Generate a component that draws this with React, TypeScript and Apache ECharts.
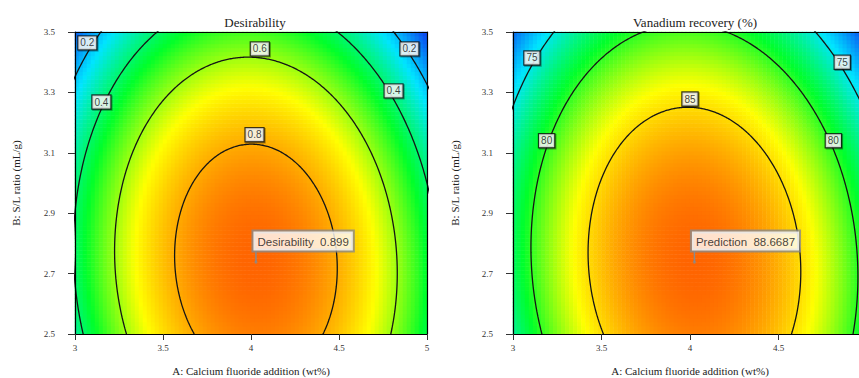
import React, { useEffect, useRef } from "react";
import * as echarts from "echarts";

// Axes
const xTicks = [3, 3.5, 4, 4.5, 5];
const xTickLabelsRight = [3, 3.5, 4, 4.5]; // the 5 label falls outside the picture on the right chart
const yTicks = [2.5, 2.7, 2.9, 3.1, 3.3, 3.5];
const xRange = [3, 5];
const yRange = [2.5, 3.5];
const xName = "A: Calcium fluoride addition (wt%)";
const yName = "B: S/L ratio (mL/g)";

// Desirability surface (peak value, optimum point, curvatures a, b, cross c)
const desTitle = "Desirability";
const desPeak = 0.899;
const desCenter = [4.028, 2.738];
const desCurv = [0.465, 0.651, 0.06];
const desLevels = [0.2, 0.4, 0.6, 0.8];
const desLabels: [number, number, string][] = [
  [3.07, 3.464, "0.2"],
  [4.05, 3.444, "0.6"],
  [4.9, 3.444, "0.2"],
  [3.15, 3.268, "0.4"],
  [4.81, 3.305, "0.4"],
  [4.02, 3.16, "0.8"],
];
const desColorRange = [0.035, 0.899];
const desFlag = "Desirability\u00a0\u00a00.899";

// Vanadium recovery surface
const vanTitle = "Vanadium recovery (%)";
const vanPeak = 88.6687;
const vanCenter = [4.025, 2.738];
const vanCurv = [10.2, 14.0, 1.47];
const vanLevels = [75, 80, 85];
const vanLabels: [number, number, string][] = [
  [3.107, 3.414, "75"],
  [4.86, 3.4, "75"],
  [4.0, 3.278, "85"],
  [3.19, 3.14, "80"],
  [4.81, 3.14, "80"],
];
const vanColorRange = [69.7, 88.6687];
const vanFlag = "Prediction\u00a0\u00a088.6687";

const colorStops = ["#0a3cf0", "#00e5ff", "#00ff2a", "#ffff00", "#ff6400"];

const NX = 88;
const NY = 76;

function model(peak: number, c: number[], k: number[], x: number, y: number) {
  const dx = x - c[0];
  const dy = y - c[1];
  return peak - k[0] * dx * dx - k[1] * dy * dy - k[2] * dx * dy;
}

function heatData(peak: number, c: number[], k: number[]) {
  const out: number[][] = [];
  for (let i = 0; i < NX; i++) {
    for (let j = 0; j < NY; j++) {
      const x = xRange[0] + ((i + 0.5) * (xRange[1] - xRange[0])) / NX;
      const y = yRange[0] + ((j + 0.5) * (yRange[1] - yRange[0])) / NY;
      out.push([i, j, model(peak, c, k, x, y)]);
    }
  }
  return out;
}

function contour(peak: number, c: number[], k: number[], level: number) {
  const L = peak - level;
  const pts: number[][] = [];
  for (let d = 0; d <= 720; d++) {
    const t = (d * Math.PI) / 360;
    const cs = Math.cos(t);
    const sn = Math.sin(t);
    const q = k[0] * cs * cs + k[1] * sn * sn + k[2] * cs * sn;
    const r = Math.sqrt(L / q);
    pts.push([c[0] + r * cs, c[1] + r * sn]);
  }
  return pts;
}

const serif = "Liberation Serif";
const sans = "Liberation Sans";

function axesFor(g: number, nameGapY: number, xLabelValues: number[]) {
  const xs = [
    {
      type: "value",
      gridIndex: g,
      min: xRange[0],
      max: xRange[1],
      position: "bottom",
      z: 5,
      axisLine: { show: true, lineStyle: { color: "#000", width: 1.2 } },
      axisTick: { show: true, customValues: xTicks, length: 6, lineStyle: { color: "#333" } },
      axisLabel: { customValues: xLabelValues, fontFamily: serif, fontSize: 9, color: "#333", margin: 9 },
      splitLine: { show: false },
      name: xName,
      nameLocation: "middle",
      nameGap: 31,
      nameTextStyle: { fontFamily: serif, fontSize: 11, color: "#222" },
    },
    {
      type: "category",
      gridIndex: g,
      data: Array.from({ length: NX }, (_, i) => i),
      position: "top",
      z: 5,
      axisLine: { show: true, lineStyle: { color: "#000", width: 1.2 } },
      axisTick: { show: false },
      axisLabel: { show: false },
      splitLine: { show: false },
    },
  ];
  const ys = [
    {
      type: "value",
      gridIndex: g,
      min: yRange[0],
      max: yRange[1],
      position: "left",
      z: 5,
      axisLine: { show: true, lineStyle: { color: "#000", width: 1.2 } },
      axisTick: { show: true, customValues: yTicks, length: 7, lineStyle: { color: "#333" } },
      axisLabel: { customValues: yTicks, fontFamily: serif, fontSize: 9, color: "#333", margin: 20 },
      splitLine: { show: false },
      name: yName,
      nameLocation: "middle",
      nameGap: nameGapY,
      nameTextStyle: { fontFamily: serif, fontSize: 11, color: "#222" },
    },
    {
      type: "category",
      gridIndex: g,
      data: Array.from({ length: NY }, (_, i) => i),
      position: "right",
      z: 5,
      axisLine: { show: true, lineStyle: { color: "#000", width: 1.2 } },
      axisTick: { show: false },
      axisLabel: { show: false },
      splitLine: { show: false },
    },
  ];
  return { xs, ys };
}

function seriesFor(
  g: number,
  peak: number,
  c: number[],
  k: number[],
  levels: number[],
  labels: [number, number, string][],
  flag: string
) {
  const vx = 2 * g;
  const cx = 2 * g + 1;
  const list: any[] = [];
  list.push({
    type: "heatmap",
    xAxisIndex: cx,
    yAxisIndex: cx,
    data: heatData(peak, c, k),
    progressive: 0,
    silent: true,
    emphasis: { disabled: true },
    z: 1,
  });
  levels.forEach((lv) => {
    list.push({
      type: "line",
      xAxisIndex: vx,
      yAxisIndex: vx,
      data: contour(peak, c, k, lv),
      showSymbol: false,
      symbol: "none",
      clip: true,
      silent: true,
      lineStyle: { color: "#151515", width: 1.3 },
      z: 3,
    });
  });
  list.push({
    type: "scatter",
    xAxisIndex: vx,
    yAxisIndex: vx,
    data: labels.map((l) => [l[0], l[1], l[2]]),
    symbolSize: 1,
    itemStyle: { color: "rgba(0,0,0,0)" },
    silent: true,
    z: 4,
    label: {
      show: true,
      position: "inside",
      formatter: (p: any) => p.value[2],
      fontFamily: sans,
      fontSize: 10,
      color: "#111",
      backgroundColor: "#fff",
      borderColor: "#111",
      borderWidth: 1.2,
      padding: [2, 2, 1, 2],
      shadowColor: "rgba(0,0,0,0.45)",
      shadowOffsetX: 1,
      shadowOffsetY: 1,
      shadowBlur: 0,
    },
  });
  // flag stem
  list.push({
    type: "line",
    xAxisIndex: vx,
    yAxisIndex: vx,
    data: [
      [c[0], c[1]],
      [c[0], c[1] + 0.04],
    ],
    showSymbol: false,
    symbol: "none",
    silent: true,
    lineStyle: { color: "#8a8a8a", width: 1.5 },
    z: 5,
  });
  list.push({
    type: "scatter",
    xAxisIndex: vx,
    yAxisIndex: vx,
    data: [[c[0], c[1]]],
    symbol: "circle",
    symbolSize: 3,
    itemStyle: { color: "#8a8a8a" },
    silent: true,
    z: 6,
    label: {
      show: true,
      position: [-1, -10],
      align: "left",
      verticalAlign: "bottom",
      formatter: flag,
      fontFamily: sans,
      fontSize: 11.5,
      color: "#111",
      backgroundColor: "#fff",
      borderColor: "#8a8a8a",
      borderWidth: 2,
      padding: [4, 4, 3, 4],
    },
  });
  return list;
}

export default function App() {
  const ref = useRef<HTMLDivElement>(null);
  useEffect(() => {
    if (!ref.current) return;
    const chart = echarts.init(ref.current, null, { renderer: "svg" });
    const a0 = axesFor(0, 54, xTicks);
    const a1 = axesFor(1, 53, xTickLabelsRight);
    const s0 = seriesFor(0, desPeak, desCenter, desCurv, desLevels, desLabels, desFlag);
    const s1 = seriesFor(1, vanPeak, vanCenter, vanCurv, vanLevels, vanLabels, vanFlag);
    const option: any = {
      animation: false,
      backgroundColor: "#fff",
      title: [
        {
          text: desTitle,
          left: 250,
          top: 11,
          textAlign: "center",
          textStyle: { fontFamily: serif, fontSize: 13, fontWeight: "normal", color: "#222" },
        },
        {
          text: vanTitle,
          left: 690,
          top: 11,
          textAlign: "center",
          textStyle: { fontFamily: serif, fontSize: 13, fontWeight: "normal", color: "#222" },
        },
      ],
      grid: [
        { left: 75, top: 32, width: 352, height: 302, outerBoundsMode: "none", containLabel: false },
        { left: 513, top: 32, width: 354, height: 302, outerBoundsMode: "none", containLabel: false },
      ],
      xAxis: [...a0.xs, ...a1.xs],
      yAxis: [...a0.ys, ...a1.ys],
      visualMap: [
        {
          type: "continuous",
          show: false,
          seriesIndex: 0,
          dimension: 2,
          min: desColorRange[0],
          max: desColorRange[1],
          inRange: { color: colorStops },
        },
        {
          type: "continuous",
          show: false,
          seriesIndex: s0.length,
          dimension: 2,
          min: vanColorRange[0],
          max: vanColorRange[1],
          inRange: { color: colorStops },
        },
      ],
      series: [...s0, ...s1],
    };
    chart.setOption(option);
    return () => chart.dispose();
  }, []);
  return (
    <div
      ref={ref}
      style={{ position: "fixed", left: 0, top: 0, width: 859, height: 378, background: "#fff" }}
    />
  );
}
